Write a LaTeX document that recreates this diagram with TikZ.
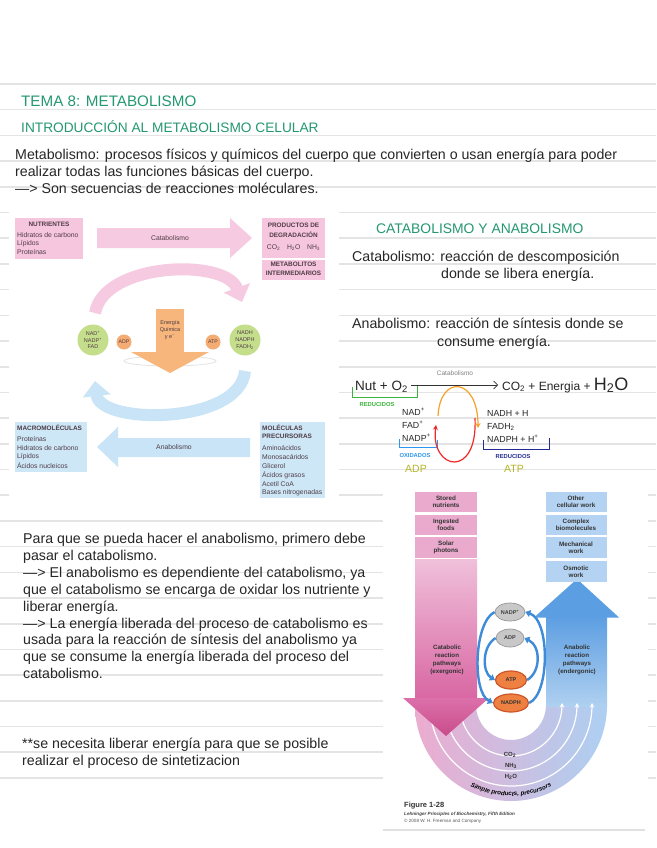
\documentclass[tikz,border=0pt]{standalone}
\usepackage{fontspec}
\setmainfont{Liberation Sans}
\usetikzlibrary{arrows.meta,decorations.text,shapes.geometric}
\definecolor{rulec}{RGB}{228,228,228}
\definecolor{heading}{RGB}{36,152,112}
\definecolor{bodytxt}{RGB}{38,38,38}
\definecolor{pinkL}{RGB}{246,202,224}
\definecolor{pinkBox}{RGB}{245,198,222}
\definecolor{blueL}{RGB}{200,228,246}
\definecolor{blueBox}{RGB}{205,231,247}
\definecolor{greenC}{RGB}{196,222,140}
\definecolor{orangeC}{RGB}{244,172,114}
\definecolor{orangeA}{RGB}{247,182,124}
\definecolor{figtxt}{RGB}{80,60,70}
\definecolor{pinkB}{RGB}{234,170,205}
\definecolor{blueB}{RGB}{180,210,241}
\definecolor{colPinkT}{RGB}{240,192,218}
\definecolor{colPinkB}{RGB}{215,98,160}
\definecolor{colBlueT}{RGB}{92,158,226}
\definecolor{colBlueB}{RGB}{175,208,240}
\definecolor{uPink}{RGB}{236,172,207}
\definecolor{uBlue}{RGB}{172,208,242}
\definecolor{headPinkT}{RGB}{220,112,170}
\definecolor{headPinkB}{RGB}{200,76,138}
\definecolor{grayE}{RGB}{200,200,200}
\definecolor{grayD}{RGB}{150,150,150}
\definecolor{orangeE}{RGB}{238,128,66}
\definecolor{orangeD}{RGB}{205,85,40}
\definecolor{cycblue}{RGB}{62,140,215}
\definecolor{hwgreen}{RGB}{60,180,60}
\definecolor{hwlblue}{RGB}{45,150,240}
\definecolor{hwdblue}{RGB}{35,45,145}
\definecolor{hwolive}{RGB}{180,180,40}
\definecolor{hworange}{RGB}{246,162,40}
\definecolor{hwred}{RGB}{240,40,40}
\begin{document}
\begin{tikzpicture}[x=1pt,y=-1pt,
  rl/.style={draw=rulec, line width=1.6pt},
  body/.style={anchor=base west, inner sep=0pt, text=bodytxt, font=\fontsize{14.2}{16}\selectfont},
  headtxt/.style={anchor=base west, inner sep=0pt, text=heading, font=\fontsize{13.7}{15}\selectfont},
  smalltxt/.style={inner sep=0pt, text=figtxt, font=\fontsize{6.8}{8}\selectfont},
  smallb/.style={inner sep=0pt, text=figtxt, font=\fontsize{6.4}{8}\selectfont\bfseries},
  gcirc/.style={circle, fill=greenC, minimum size=31pt, inner sep=0pt, align=center, text=figtxt, font=\fontsize{5.5}{6.8}\selectfont},
  ocirc/.style={circle, fill=orangeC, minimum size=15pt, inner sep=0pt, text=figtxt, font=\fontsize{5.2}{6}\selectfont},
  pbox/.style={fill=pinkB, minimum width=62pt, minimum height=20pt, inner sep=0pt, align=center, text=black!80, font=\fontsize{6.3}{7.3}\selectfont\bfseries},
  bbox/.style={fill=blueB, minimum width=61pt, minimum height=20pt, inner sep=0pt, align=center, text=black!80, font=\fontsize{6.3}{7.3}\selectfont\bfseries},
  gell/.style={ellipse, fill=grayE, draw=grayD, line width=0.7pt, minimum width=30pt, minimum height=18pt, inner sep=0pt, text=black!75, font=\fontsize{5.5}{6}\selectfont\bfseries},
  oell/.style={ellipse, fill=orangeE, draw=orangeD, line width=1.2pt, minimum width=31pt, minimum height=18pt, inner sep=0pt, text=black!80, font=\fontsize{5.5}{6}\selectfont\bfseries},
  cyc/.style={draw=cycblue, line width=2.4pt, -{Triangle[width=7pt,length=5pt]}},
  clab/.style={inner sep=0pt, align=center, text=black!80, font=\fontsize{6.2}{8}\selectfont\bfseries},
  utxt/.style={inner sep=0pt, text=black!80, font=\fontsize{6}{7}\selectfont\bfseries},
  hw/.style={inner sep=0pt, anchor=base west, text=black!85, font=\fontsize{8.8}{10}\selectfont},
  hwlab/.style={inner sep=0pt, font=\fontsize{5.8}{7}\selectfont\bfseries},
]
\useasboundingbox (0,0) rectangle (656,848);
\fill[white] (0,0) rectangle (656,848);
\foreach \k in {0,...,27} {\draw[rl] (0,{84+25.7*\k}) -- (656,{84+25.7*\k});}

% figure backgrounds
\fill[white] (9,206) rectangle (339,507);
\fill[white] (383,481) rectangle (648,834);

% ---------- headings and text
\node[headtxt, font=\fontsize{15.2}{16}\selectfont] (t1) at (21,106.5) {TEMA 8: METABOLISMO};
\node[headtxt] (t2) at (21,132) {INTRODUCCIÓN AL METABOLISMO CELULAR};
\node[body] (m1) at (15,159) {Metabolismo: procesos físicos y químicos del cuerpo que convierten o usan energía para poder};
\node[body] (m2) at (15,176) {realizar todas las funciones básicas del cuerpo.};
\node[body] (m3) at (15,193) {—> Son secuencias de reacciones moléculares.};

\node[headtxt, font=\fontsize{13.9}{15}\selectfont] (t3) at (376,233) {CATABOLISMO Y ANABOLISMO};
\node[body] (c1) at (352,261.5) {Catabolismo: reacción de descomposición};
\node[body] (c2) at (441,278.5) {donde se libera energía.};
\node[body] (a1) at (352,328.5) {Anabolismo: reacción de síntesis donde se};
\node[body] (a2) at (437,346.5) {consume energía.};

\node[body] (p1) at (23,543.5) {Para que se pueda hacer el anabolismo, primero debe};
\node[body] (p2) at (23,560.4) {pasar el catabolismo.};
\node[body] (p3) at (23,577.3) {—> El anabolismo es dependiente del catabolismo, ya};
\node[body] (p4) at (23,594.2) {que el catabolismo se encarga de oxidar los nutriente y};
\node[body] (p5) at (23,611.1) {liberar energía.};
\node[body] (p6) at (23,628) {—> La energía liberada del proceso de catabolismo es};
\node[body] (p7) at (23,644.9) {usada para la reacción de síntesis del anabolismo ya};
\node[body] (p8) at (23,661.8) {que se consume la energía liberada del proceso del};
\node[body] (p9) at (23,678.7) {catabolismo.};
\node[body] (n1) at (22,748) {**se necesita liberar energía para que se posible};
\node[body] (n2) at (22,765) {realizar el proceso de sintetizacion};

% ---------- left figure
\node[fill=pinkBox, anchor=north west, minimum width=68pt, minimum height=41pt, inner sep=0pt] (nutr) at (15,218) {};
\node[smallb] (nutrT) at (49,224) {NUTRIENTES};
\node[smalltxt, anchor=west] (nutr1) at (17,235) {Hidratos de carbono};
\node[smalltxt, anchor=west] (nutr2) at (17,243.5) {Lípidos};
\node[smalltxt, anchor=west] (nutr3) at (17,252) {Proteínas};

\node[fill=pinkBox, anchor=north west, minimum width=63pt, minimum height=40pt, inner sep=0pt] (prod) at (262,218) {};
\node[smallb] (prodT1) at (293.5,225.5) {PRODUCTOS DE};
\node[smallb] (prodT2) at (293.5,235) {DEGRADACIÓN};
\node[smalltxt] (prodT3) at (293.5,248) {CO\textsubscript{2}\quad H\textsubscript{2}O\quad NH\textsubscript{3}};
\node[fill=pinkBox, anchor=north west, minimum width=63pt, minimum height=20pt, inner sep=0pt] (metab) at (262,260) {};
\node[smallb] (metT1) at (293.5,264.5) {METABOLITOS};
\node[smallb] (metT2) at (293.5,273) {INTERMEDIARIOS};

\fill[pinkL] (97,228) -- (230,228) -- (230,218) -- (252,238) -- (230,258) -- (230,248) -- (97,248) -- cycle;
\node[smalltxt] (catlab) at (170,238) {Catabolismo};

\draw[pinkL, line width=12pt, -{Triangle[width=27pt,length=15pt]}] (95,313) .. controls (104,262) and (226,258) .. (242,302);
\draw[blueL, line width=12pt, -{Triangle[width=27pt,length=15pt]}] (245,371) .. controls (240,425) and (100,425) .. (95,381);

\draw[gray!22, line width=0.8pt] (170,361) ellipse [x radius=46, y radius=5];
\fill[orangeA] (156,309) rectangle (184,353);
\fill[orangeA] (131,352) -- (209,352) -- (170,373) -- cycle;
\node[smalltxt, align=center, font=\fontsize{5.5}{7}\selectfont] (energ) at (170,330) {Energía\\Química\\y e\textsuperscript{−}};

\node[gcirc] (oxid) at (93,340) {NAD\textsuperscript{+}\\NADP\textsuperscript{+}\\FAD};
\node[gcirc] (redu) at (245,340) {NADH\\NADPH\\FADH\textsubscript{2}};
\node[ocirc] (adpL) at (124,342) {ADP};
\node[ocirc] (atpL) at (213,342) {ATP};

\fill[blueL] (250,438) -- (118,438) -- (118,427) -- (97,447) -- (118,467) -- (118,457) -- (250,457) -- cycle;
\node[smalltxt] (analab) at (174,447) {Anabolismo};

\node[fill=blueBox, anchor=north west, minimum width=72pt, minimum height=50pt, inner sep=0pt] (macro) at (15,422) {};
\node[smallb, anchor=west] (macT) at (17,427.5) {MACROMOLÉCULAS};
\node[smalltxt, anchor=west] (mac1) at (17,439) {Proteínas};
\node[smalltxt, anchor=west] (mac2) at (17,448) {Hidratos de carbono};
\node[smalltxt, anchor=west] (mac3) at (17,457) {Lípidos};
\node[smalltxt, anchor=west] (mac4) at (17,466) {Ácidos nucleicos};

\node[fill=blueBox, anchor=north west, minimum width=65pt, minimum height=76pt, inner sep=0pt] (prec) at (260,422) {};
\node[smallb, anchor=west] (precT1) at (262,427.5) {MOLÉCULAS};
\node[smallb, anchor=west] (precT2) at (262,436.5) {PRECURSORAS};
\node[smalltxt, anchor=west] (prec1) at (262,448) {Aminoácidos};
\node[smalltxt, anchor=west] (prec2) at (262,457) {Monosacáridos};
\node[smalltxt, anchor=west] (prec3) at (262,466) {Glicerol};
\node[smalltxt, anchor=west] (prec4) at (262,475) {Ácidos grasos};
\node[smalltxt, anchor=west] (prec5) at (262,484) {Acetil CoA};
\node[smalltxt, anchor=west] (prec6) at (262,493) {Bases nitrogenadas};

% ---------- handwritten scheme
\node[hw, font=\fontsize{13.5}{14}\selectfont] (nut) at (355,390) {Nut + O\textsubscript{2}};
\node[hw, font=\fontsize{12}{13}\selectfont] (prods) at (502,390) {CO\textsubscript{2} + Energia + {\fontsize{18}{18}\selectfont H\textsubscript{2}O}};
\draw[black!80, line width=0.7pt, -{Straight Barb[length=4pt]}] ([xshift=3pt,yshift=5pt]nut.base east) -- ([xshift=-4pt,yshift=5pt]prods.base west);
\node[inner sep=0pt, text=black!50, font=\fontsize{6.5}{7}\selectfont] (catw) at (455,373) {Catabolismo};
\draw[hwgreen, line width=0.9pt] (352,387) -- (352,397) -- (417,397) -- (417,386);
\node[hwlab, text=hwgreen] (redA) at (377,404) {REDUCIDOS};
\node[hw] (nad) at (402,415.5) {NAD\textsuperscript{+}};
\node[hw] (fad) at (402,428.5) {FAD\textsuperscript{+}};
\node[hw] (nadp) at (402,441.5) {NADP\textsuperscript{+}};
\draw[hwlblue, line width=0.9pt] (399,439) -- (399,447) -- (437,447) -- (437,440);
\node[hwlab, text=hwlblue] (oxw) at (415,455) {OXIDADOS};
\node[inner sep=0pt, text=hwolive, font=\fontsize{10.5}{11}\selectfont] (adpw) at (416,469) {ADP};
\node[hw] (nadh) at (487,416.5) {NADH + H};
\node[hw] (fadh) at (487,429.5) {FADH\textsubscript{2}};
\node[hw] (nadph) at (487,442.5) {NADPH + H\textsuperscript{+}};
\draw[hwdblue, line width=0.9pt] (483,440) -- (483,449) -- (549,449) -- (549,438);
\node[hwlab, text=hwdblue] (redB) at (513,456) {REDUCIDOS};
\node[inner sep=0pt, text=hwolive, font=\fontsize{10.5}{11}\selectfont] (atpw) at (514,469) {ATP};
\draw[hworange, line width=1.2pt, -{Stealth[length=5pt,width=5pt]}] (438,416) .. controls (440,374) and (478,377) .. (478,428);
\draw[hwred, line width=1.2pt, -{Stealth[length=5pt,width=5pt]}] (475,418) .. controls (478,480) and (430,470) .. (436,425);

% ---------- bottom-right figure
\coordinate (uc) at (511,705);
\shade[left color=uPink, right color=uBlue] (415,705) arc[start angle=180,end angle=0,radius=96] -- (546,705) arc[start angle=0,end angle=180,radius=35] -- cycle;
\shade[top color=colPinkT, bottom color=colPinkB] (415,559) rectangle (477,706);
\shade[top color=colBlueT, bottom color=colBlueB] (546,616) rectangle (607,706);
\fill[colBlueT] (534,617.5) -- (577,579) -- (619,617.5) -- cycle;
\foreach \r in {81,66,51} {\draw[white, line width=1.2pt, -{Stealth[length=4.5pt,width=4.5pt]}] ([shift={(180:\r)}]uc) arc[start angle=180, end angle=0, radius=\r] -- ++(0,-2);}
\shade[top color=headPinkT, bottom color=headPinkB] (403,698) -- (489,698) -- (446,736) -- cycle;

\node[pbox] (sn) at (446,502) {Stored\\nutrients};
\node[pbox] (inf) at (446,525) {Ingested\\foods};
\node[pbox, minimum height=21pt] (sp) at (446,547.5) {Solar\\photons};
\node[bbox] (ocw) at (576,502) {Other\\cellular work};
\node[bbox] (cbm) at (576,525) {Complex\\biomolecules};
\node[bbox, minimum height=21pt] (mw) at (576,547.5) {Mechanical\\work};
\node[bbox, minimum height=21pt] (ow) at (576,571.5) {Osmotic\\work};

\node[gell] (nadpE) at (510,612) {NADP\textsuperscript{+}};
\node[gell, minimum width=28pt] (adpE) at (510,638) {ADP};
\node[oell] (atpE) at (511,680) {ATP};
\node[oell, minimum width=35pt] (nadphE) at (511,703) {NADPH};
\draw[cyc] (nadpE.west) .. controls (474,622) and (472,692) .. (nadphE.west);
\draw[cyc] (adpE.west) .. controls (482,646) and (482,672) .. (atpE.west);
\draw[cyc] (atpE.east) .. controls (541,672) and (541,646) .. (adpE.east);
\draw[cyc] (nadphE.east) .. controls (550,694) and (550,620) .. (nadpE.east);

\node[clab] (catl) at (447,660) {Catabolic\\reaction\\pathways\\(exergonic)};
\node[clab] (anal) at (577,660) {Anabolic\\reaction\\pathways\\(endergonic)};
\node[utxt] (co2) at (510,755) {CO\textsubscript{2}};
\node[utxt] (nh3) at (511,766) {NH\textsubscript{3}};
\node[utxt] (h2o) at (511,777) {H\textsubscript{2}O};
\path[decorate, decoration={text along path, text align=center, text={|\fontsize{6.2}{7}\selectfont\bfseries\itshape|Simple products, precursors}}] ([shift={(145:91)}]uc) arc[start angle=145, end angle=35, radius=91];

\node[inner sep=0pt, anchor=west, text=black!80, font=\fontsize{7.5}{8}\selectfont\bfseries] (fig) at (404,806) {Figure 1-28};
\node[inner sep=0pt, anchor=west, text=black!75, font=\fontsize{4.6}{5}\selectfont\bfseries\itshape] (leh) at (404,814) {Lehninger Principles of Biochemistry, Fifth Edition};
\node[inner sep=0pt, anchor=west, text=black!65, font=\fontsize{4.6}{5}\selectfont] (copy) at (404,821.5) {© 2008 W. H. Freeman and Company};
\draw[black!12, line width=2pt] (383,830) -- (645,830);
\end{tikzpicture}
\end{document}
